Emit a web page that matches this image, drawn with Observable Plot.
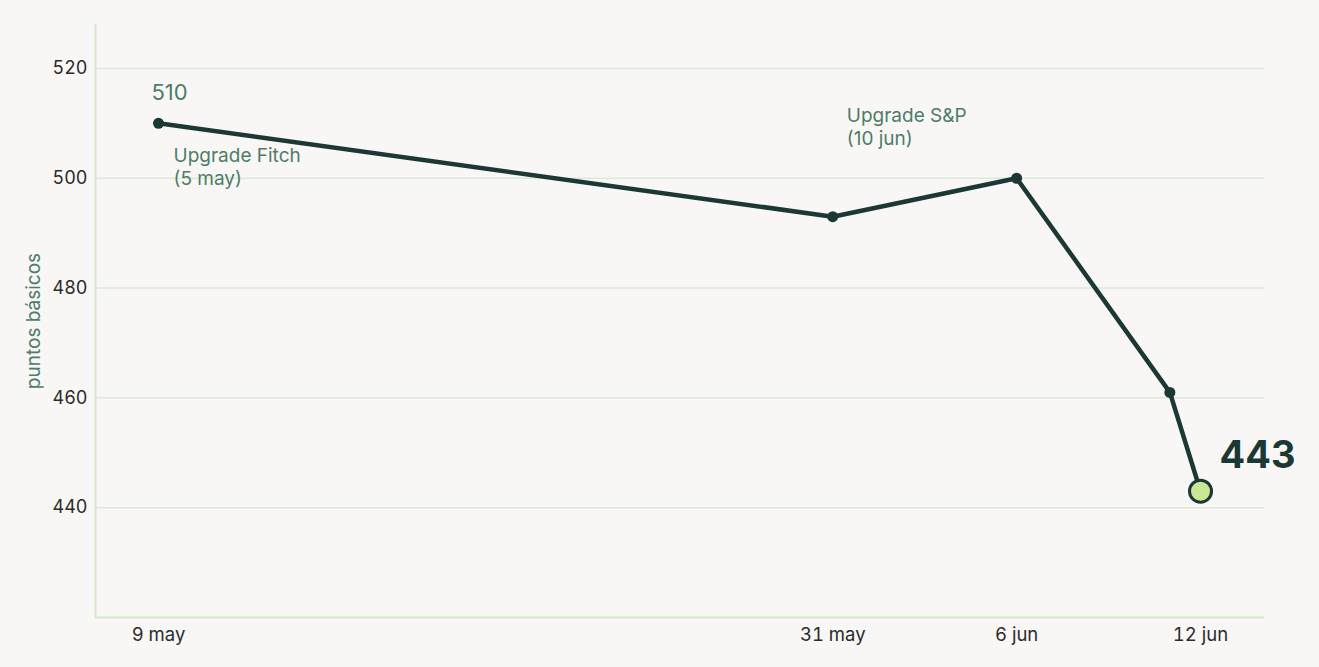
<!DOCTYPE html>
<html>
<head>
<meta charset="utf-8">
<script src="https://cdn.jsdelivr.net/npm/d3@7"></script>
<script src="https://cdn.jsdelivr.net/npm/@observablehq/plot@0.6"></script>
<style>
  html, body { margin: 0; padding: 0; background: #f8f7f5; }
  #chart { width: 1319px; height: 667px; }
</style>
</head>
<body>
<div id="chart"></div>
<script>
const dates = ["2025-05-09", "2025-05-31", "2025-06-06", "2025-06-11", "2025-06-12"];
const values = [510, 493, 500, 461, 443];
const xTicks = ["2025-05-09", "2025-05-31", "2025-06-06", "2025-06-12"];
const yTicks = [440, 460, 480, 500, 520];
const monthNames = ["ene","feb","mar","abr","may","jun","jul","ago","sep","oct","nov","dic"];
const yLabel = "puntos básicos";
const firstLabel = "510";
const lastLabel = "443";
const noteFitch = "Upgrade Fitch\n(5 may)";
const noteSP = "Upgrade S&P\n(10 jun)";

const parse = s => new Date(s.length > 10 ? s : s + "T00:00:00Z");
const data = dates.map((d, i) => ({date: parse(d), value: values[i]}));
const first = data[0];
const last = data[data.length - 1];
const spAnchor = data[1];

const ink = "#1b3835";
const green = "#4e7c68";
const gridColor = "#dde9d8";
const axisColor = "#d3e5cb";
const font = "Inter, 'Noto Sans', sans-serif";
const xStart = parse("2025-05-06T22:40:00Z");
const xEnd = parse("2025-06-14T02:06:00Z");

const chart = Plot.plot({
  width: 1319,
  height: 667,
  marginLeft: 95,
  marginRight: 55,
  marginTop: 24,
  marginBottom: 50,
  style: {background: "#f8f7f5", fontFamily: font, fontSize: "18px", color: "#2b2b2b"},
  x: {type: "utc", domain: [xStart, xEnd]},
  y: {domain: [420, 528]},
  marks: [
    Plot.gridY(yTicks, {stroke: gridColor, strokeOpacity: 1, strokeWidth: 1.5}),
    Plot.ruleY([420], {stroke: axisColor, strokeWidth: 2}),
    Plot.ruleX([xStart], {stroke: axisColor, strokeWidth: 2}),
    Plot.axisY(yTicks, {tickSize: 0, tickPadding: 8, label: null, fontSize: 18, fill: "#2b2b2b"}),
    Plot.axisX(xTicks.map(parse), {
      tickSize: 0, tickPadding: 10, label: null, fontSize: 18.5, fill: "#2b2b2b",
      tickFormat: d => `${d.getUTCDate()} ${monthNames[d.getUTCMonth()]}`
    }),
    Plot.text([yLabel], {frameAnchor: "left", textAnchor: "middle", rotate: -90, dx: -62, fill: green, fontSize: 19}),
    Plot.line(data, {x: "date", y: "value", stroke: ink, strokeWidth: 4.5, strokeLinejoin: "round"}),
    Plot.dot(data.slice(0, -1), {x: "date", y: "value", r: 5.5, fill: ink}),
    Plot.dot([last], {x: "date", y: "value", r: 11, fill: "#c9e795", stroke: ink, strokeWidth: 3}),
    Plot.text([first], {x: "date", y: "value", text: () => firstLabel, dx: -7, dy: -30, textAnchor: "start", fill: green, fontSize: 22}),
    Plot.text([first], {x: "date", y: "value", text: () => noteFitch, dx: 15, dy: 43, textAnchor: "start", fill: green, fontSize: 19, lineHeight: 1.22}),
    Plot.text([spAnchor], {x: "date", y: "value", text: () => noteSP, dx: 14, dy: -91, textAnchor: "start", fill: green, fontSize: 19, lineHeight: 1.22}),
    Plot.text([last], {x: "date", y: "value", text: () => lastLabel, dx: 19, dy: -35, textAnchor: "start", fill: ink, fontSize: 38, fontWeight: 700})
  ]
});
document.getElementById("chart").appendChild(chart);
</script>
</body>
</html>
